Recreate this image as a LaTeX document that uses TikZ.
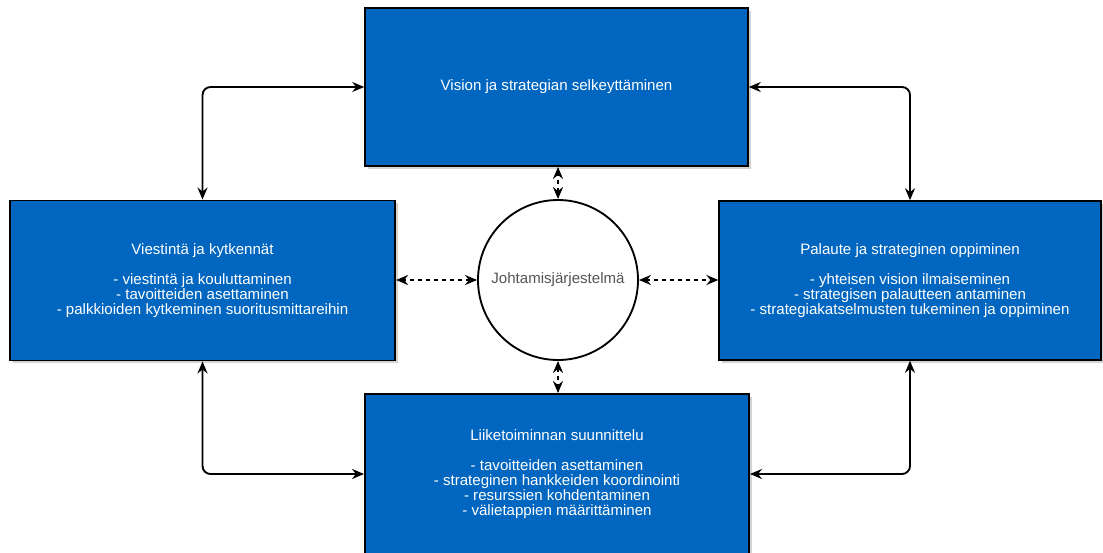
\documentclass[tikz,border=0pt]{standalone}
\usepackage{fontspec}
\setmainfont{Liberation Sans}
\usepackage{tikz}
\usetikzlibrary{arrows.meta,shadows,calc}
\definecolor{boxblue}{HTML}{0066C0}
\definecolor{circtext}{HTML}{555555}

\begin{document}
\begin{tikzpicture}[x=0.75pt,y=-0.75pt]
	\path [use as bounding box] (0,0) rectangle (1103,553);
	\tikzstyle{area} = [rectangle, draw=black, line width=1.4pt, fill=boxblue, text=white, align=center,
		font=\fontsize{11.3}{11.25}\selectfont, drop shadow={shadow xshift=2pt, shadow yshift=-2pt, opacity=.35}]
	\tikzstyle{link} = [line width=1.4pt, rounded corners=6pt, {Stealth[length=9pt,width=7.5pt]}-{Stealth[length=9pt,width=7.5pt]}]
	\tikzstyle{dlink} = [line width=1.4pt, dash pattern=on 3pt off 3pt, {Stealth[length=9pt,width=7.5pt]}-{Stealth[length=9pt,width=7.5pt]}]
	\coordinate (cVision) at (556.5,87);
	\coordinate (cViest) at (202.5,280.5);
	\coordinate (cPal) at (910,280.5);
	\coordinate (cLiike) at (557,474);
	\coordinate (cJohto) at (558,280);
	\node [area, minimum width=287pt, minimum height=118.5pt] (vision) at (cVision) {Vision ja strategian selkeyttäminen};
	\node [area, minimum width=289pt, minimum height=120pt] (viestinta) at (cViest)
		{Viestintä ja kytkennät\\[11.25pt] - viestintä ja kouluttaminen\\ - tavoitteiden asettaminen\\ - palkkioiden kytkeminen suoritusmittareihin};
	\node [area, minimum width=286pt, minimum height=119pt] (palaute) at (cPal)
		{Palaute ja strateginen oppiminen\\[11.25pt] - yhteisen vision ilmaiseminen\\ - strategisen palautteen antaminen\\ - strategiakatselmusten tukeminen ja oppiminen};
	\node [area, minimum width=288pt, minimum height=120pt] (liike) at (cLiike)
		{Liiketoiminnan suunnittelu\\[11.25pt] - tavoitteiden asettaminen\\ - strateginen hankkeiden koordinointi\\ - resurssien kohdentaminen\\ - välietappien määrittäminen};
	\node [circle, draw=black, line width=1.4pt, fill=white, minimum size=120pt, inner sep=0pt,
		text=circtext, font=\fontsize{11.3}{11.25}\selectfont] (johto) at (cJohto) {Johtamisjärjestelmä};
	\draw [link] (viestinta.north) |- (vision.west);
	\draw [link] (vision.east) -| (palaute.north);
	\draw [link] (viestinta.south) |- (liike.west);
	\draw [link] (palaute.south) |- (liike.east);
	\draw [dlink] (johto.north) -- (johto.north |- vision.south);
	\draw [dlink] (johto.south) -- (johto.south |- liike.north);
	\draw [dlink] (johto.west) -- (johto.west -| viestinta.east);
	\draw [dlink] (johto.east) -- (johto.east -| palaute.west);
\end{tikzpicture}
\end{document}
